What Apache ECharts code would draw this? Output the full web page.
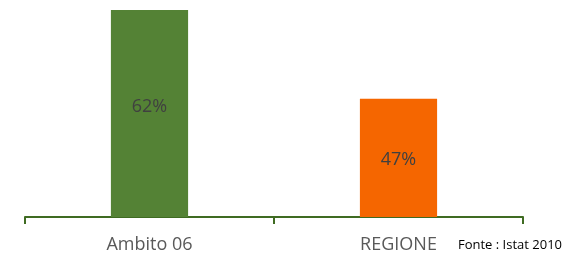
<!DOCTYPE html>
<html>
<head>
<meta charset="utf-8">
<script src="https://cdn.jsdelivr.net/npm/echarts@6/dist/echarts.min.js"></script>
<style>
  html, body { margin: 0; padding: 0; background: #fff; }
  #chart { width: 564px; height: 254px; }
</style>
</head>
<body>
<div id="chart"></div>
<script>
const categories = ['Ambito 06', 'REGIONE']
const values = [62, 47]
const barColors = ['#548235', '#f56600']
const labelShift = [-7, 2]
const sourceNote = 'Fonte : Istat 2010'

const chart = echarts.init(document.getElementById('chart'))

const option = {
  animation: false,
  grid: { left: 25, right: 41, top: 10, bottom: 37 },
  xAxis: {
    type: 'category',
    data: categories,
    axisLine: { lineStyle: { color: '#3f6b22', width: 2 } },
    axisTick: { show: true, length: 7, lineStyle: { color: '#3f6b22', width: 2 } },
    axisLabel: {
      color: '#595959',
      fontSize: 18,
      fontFamily: 'Open Sans',
      margin: 19
    }
  },
  yAxis: {
    type: 'value',
    min: 27,
    max: 62,
    show: false,
    splitLine: { show: false }
  },
  series: [
    {
      type: 'bar',
      barWidth: '31%',
      data: values.map((v, i) => ({
        value: v,
        itemStyle: { color: barColors[i] },
        label: { offset: [0, labelShift[i]] }
      })),
      label: {
        show: true,
        position: 'inside',
        formatter: (p) => p.value + '%',
        color: '#404040',
        fontSize: 18,
        fontFamily: 'Open Sans'
      }
    }
  ],
  graphic: [
    {
      type: 'text',
      right: 2,
      top: 239,
      style: {
        text: sourceNote,
        fill: '#000',
        fontSize: 13,
        fontFamily: 'Open Sans'
      }
    }
  ]
}

chart.setOption(option)
</script>
</body>
</html>
